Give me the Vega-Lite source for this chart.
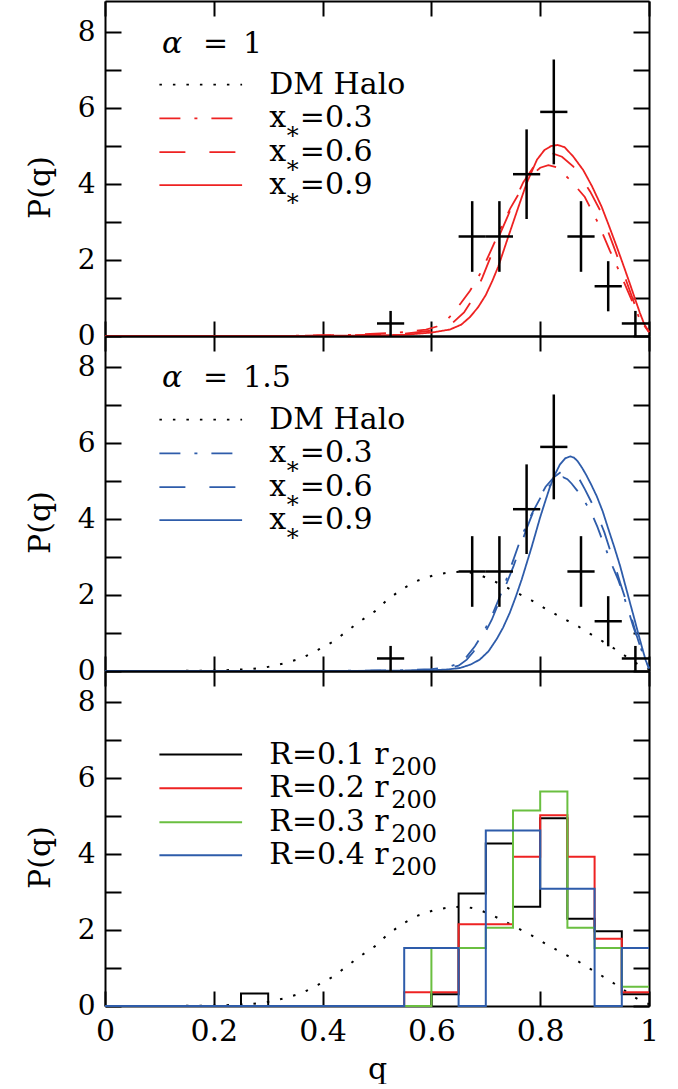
{
  "$schema": "https://vega.github.io/schema/vega-lite/v6.json",
  "padding": {"left": 25, "top": 0, "right": 5, "bottom": 0},
  "spacing": 0,
  "bounds": "flush",
  "resolve": {"scale": {"color": "independent", "strokeDash": "independent"}},
  "config": {
    "view": {"stroke": null},
    "font": "DejaVu Serif",
    "axis": {"domainColor": "black", "domainWidth": 2, "tickColor": "black", "tickWidth": 2, "labelFont": "DejaVu Serif", "labelFontSize": 30, "labelColor": "black", "titleFont": "DejaVu Serif", "titleFontSize": 30, "titleFontWeight": "normal", "titleColor": "black", "grid": false, "labelFlush": false},
    "axisLeft": {"labelFontSize": 28},
    "text": {"font": "DejaVu Serif", "fontSize": 30, "color": "black"}
  },
  "datasets": {
    "crosses": [
      {"q": 0.525, "qlo": 0.5, "qhi": 0.55, "P": 0.33, "Plo": 0.0, "Phi": 0.66},
      {"q": 0.675, "qlo": 0.65, "qhi": 0.7, "P": 2.62, "Plo": 1.69, "Phi": 3.55},
      {"q": 0.725, "qlo": 0.7, "qhi": 0.75, "P": 2.62, "Plo": 1.69, "Phi": 3.55},
      {"q": 0.775, "qlo": 0.75, "qhi": 0.8, "P": 4.26, "Plo": 3.08, "Phi": 5.44},
      {"q": 0.825, "qlo": 0.8, "qhi": 0.85, "P": 5.9, "Plo": 4.52, "Phi": 7.28},
      {"q": 0.875, "qlo": 0.85, "qhi": 0.9, "P": 2.62, "Plo": 1.69, "Phi": 3.55},
      {"q": 0.925, "qlo": 0.9, "qhi": 0.95, "P": 1.31, "Plo": 0.65, "Phi": 1.97},
      {"q": 0.975, "qlo": 0.95, "qhi": 1.0, "P": 0.33, "Plo": 0.0, "Phi": 0.66}
    ],
    "curves1": [
      {"s": "x0.9", "q": 0, "P": 0}, {"s": "x0.9", "q": 0.3, "P": 0}, {"s": "x0.9", "q": 0.45, "P": 0.01}, {"s": "x0.9", "q": 0.55, "P": 0.03}, {"s": "x0.9", "q": 0.6, "P": 0.09}, {"s": "x0.9", "q": 0.634, "P": 0.17}, {"s": "x0.9", "q": 0.655, "P": 0.3}, {"s": "x0.9", "q": 0.671, "P": 0.5}, {"s": "x0.9", "q": 0.686, "P": 0.76}, {"s": "x0.9", "q": 0.7, "P": 1.08}, {"s": "x0.9", "q": 0.712, "P": 1.45}, {"s": "x0.9", "q": 0.723, "P": 1.83}, {"s": "x0.9", "q": 0.741, "P": 2.6}, {"s": "x0.9", "q": 0.76, "P": 3.4}, {"s": "x0.9", "q": 0.775, "P": 4.02}, {"s": "x0.9", "q": 0.794, "P": 4.64}, {"s": "x0.9", "q": 0.808, "P": 4.9}, {"s": "x0.9", "q": 0.82, "P": 5.0}, {"s": "x0.9", "q": 0.832, "P": 5.03}, {"s": "x0.9", "q": 0.845, "P": 4.97}, {"s": "x0.9", "q": 0.861, "P": 4.72}, {"s": "x0.9", "q": 0.879, "P": 4.37}, {"s": "x0.9", "q": 0.895, "P": 3.95}, {"s": "x0.9", "q": 0.913, "P": 3.4}, {"s": "x0.9", "q": 0.927, "P": 2.88}, {"s": "x0.9", "q": 0.941, "P": 2.34}, {"s": "x0.9", "q": 0.953, "P": 1.86}, {"s": "x0.9", "q": 0.965, "P": 1.37}, {"s": "x0.9", "q": 0.975, "P": 0.95}, {"s": "x0.9", "q": 0.983, "P": 0.62}, {"s": "x0.9", "q": 0.991, "P": 0.32}, {"s": "x0.9", "q": 1.0, "P": 0.1},
      {"s": "x0.6", "q": 0, "P": 0}, {"s": "x0.6", "q": 0.3, "P": 0}, {"s": "x0.6", "q": 0.45, "P": 0.02}, {"s": "x0.6", "q": 0.55, "P": 0.06}, {"s": "x0.6", "q": 0.6, "P": 0.14}, {"s": "x0.6", "q": 0.62, "P": 0.22}, {"s": "x0.6", "q": 0.64, "P": 0.36}, {"s": "x0.6", "q": 0.66, "P": 0.62}, {"s": "x0.6", "q": 0.677, "P": 1.0}, {"s": "x0.6", "q": 0.694, "P": 1.55}, {"s": "x0.6", "q": 0.711, "P": 2.16}, {"s": "x0.6", "q": 0.728, "P": 2.75}, {"s": "x0.6", "q": 0.745, "P": 3.31}, {"s": "x0.6", "q": 0.769, "P": 4.05}, {"s": "x0.6", "q": 0.79, "P": 4.5}, {"s": "x0.6", "q": 0.808, "P": 4.72}, {"s": "x0.6", "q": 0.824, "P": 4.8}, {"s": "x0.6", "q": 0.84, "P": 4.72}, {"s": "x0.6", "q": 0.861, "P": 4.46}, {"s": "x0.6", "q": 0.876, "P": 4.15}, {"s": "x0.6", "q": 0.892, "P": 3.8}, {"s": "x0.6", "q": 0.91, "P": 3.31}, {"s": "x0.6", "q": 0.934, "P": 2.4}, {"s": "x0.6", "q": 0.958, "P": 1.46}, {"s": "x0.6", "q": 0.977, "P": 0.7}, {"s": "x0.6", "q": 0.99, "P": 0.3}, {"s": "x0.6", "q": 1.0, "P": 0.1},
      {"s": "x0.3", "q": 0, "P": 0}, {"s": "x0.3", "q": 0.3, "P": 0}, {"s": "x0.3", "q": 0.45, "P": 0.03}, {"s": "x0.3", "q": 0.55, "P": 0.1}, {"s": "x0.3", "q": 0.59, "P": 0.17}, {"s": "x0.3", "q": 0.61, "P": 0.25}, {"s": "x0.3", "q": 0.625, "P": 0.38}, {"s": "x0.3", "q": 0.637, "P": 0.55}, {"s": "x0.3", "q": 0.655, "P": 0.88}, {"s": "x0.3", "q": 0.671, "P": 1.19}, {"s": "x0.3", "q": 0.692, "P": 1.7}, {"s": "x0.3", "q": 0.711, "P": 2.3}, {"s": "x0.3", "q": 0.728, "P": 2.85}, {"s": "x0.3", "q": 0.745, "P": 3.36}, {"s": "x0.3", "q": 0.765, "P": 3.85}, {"s": "x0.3", "q": 0.785, "P": 4.24}, {"s": "x0.3", "q": 0.8, "P": 4.43}, {"s": "x0.3", "q": 0.815, "P": 4.5}, {"s": "x0.3", "q": 0.83, "P": 4.44}, {"s": "x0.3", "q": 0.855, "P": 4.11}, {"s": "x0.3", "q": 0.882, "P": 3.66}, {"s": "x0.3", "q": 0.907, "P": 2.96}, {"s": "x0.3", "q": 0.928, "P": 2.25}, {"s": "x0.3", "q": 0.947, "P": 1.65}, {"s": "x0.3", "q": 0.965, "P": 1.05}, {"s": "x0.3", "q": 0.983, "P": 0.45}, {"s": "x0.3", "q": 1.0, "P": 0.12}
    ],
    "curves15": [
      {"s": "x0.9", "q": 0, "P": 0}, {"s": "x0.9", "q": 0.4, "P": 0}, {"s": "x0.9", "q": 0.55, "P": 0.01}, {"s": "x0.9", "q": 0.6, "P": 0.02}, {"s": "x0.9", "q": 0.63, "P": 0.04}, {"s": "x0.9", "q": 0.653, "P": 0.08}, {"s": "x0.9", "q": 0.672, "P": 0.17}, {"s": "x0.9", "q": 0.689, "P": 0.3}, {"s": "x0.9", "q": 0.705, "P": 0.52}, {"s": "x0.9", "q": 0.72, "P": 0.84}, {"s": "x0.9", "q": 0.732, "P": 1.15}, {"s": "x0.9", "q": 0.744, "P": 1.53}, {"s": "x0.9", "q": 0.755, "P": 1.95}, {"s": "x0.9", "q": 0.766, "P": 2.41}, {"s": "x0.9", "q": 0.784, "P": 3.25}, {"s": "x0.9", "q": 0.8, "P": 4.05}, {"s": "x0.9", "q": 0.81, "P": 4.5}, {"s": "x0.9", "q": 0.818, "P": 4.85}, {"s": "x0.9", "q": 0.827, "P": 5.17}, {"s": "x0.9", "q": 0.836, "P": 5.43}, {"s": "x0.9", "q": 0.846, "P": 5.6}, {"s": "x0.9", "q": 0.855, "P": 5.65}, {"s": "x0.9", "q": 0.862, "P": 5.62}, {"s": "x0.9", "q": 0.869, "P": 5.52}, {"s": "x0.9", "q": 0.877, "P": 5.35}, {"s": "x0.9", "q": 0.885, "P": 5.15}, {"s": "x0.9", "q": 0.894, "P": 4.9}, {"s": "x0.9", "q": 0.904, "P": 4.6}, {"s": "x0.9", "q": 0.915, "P": 4.2}, {"s": "x0.9", "q": 0.925, "P": 3.75}, {"s": "x0.9", "q": 0.936, "P": 3.27}, {"s": "x0.9", "q": 0.947, "P": 2.76}, {"s": "x0.9", "q": 0.956, "P": 2.28}, {"s": "x0.9", "q": 0.965, "P": 1.8}, {"s": "x0.9", "q": 0.973, "P": 1.38}, {"s": "x0.9", "q": 0.98, "P": 1.0}, {"s": "x0.9", "q": 0.987, "P": 0.63}, {"s": "x0.9", "q": 0.994, "P": 0.28}, {"s": "x0.9", "q": 1.0, "P": 0.06},
      {"s": "x0.6", "q": 0, "P": 0}, {"s": "x0.6", "q": 0.4, "P": 0}, {"s": "x0.6", "q": 0.55, "P": 0.01}, {"s": "x0.6", "q": 0.6, "P": 0.03}, {"s": "x0.6", "q": 0.63, "P": 0.07}, {"s": "x0.6", "q": 0.65, "P": 0.14}, {"s": "x0.6", "q": 0.665, "P": 0.3}, {"s": "x0.6", "q": 0.677, "P": 0.5}, {"s": "x0.6", "q": 0.694, "P": 0.88}, {"s": "x0.6", "q": 0.711, "P": 1.35}, {"s": "x0.6", "q": 0.731, "P": 2.05}, {"s": "x0.6", "q": 0.751, "P": 2.76}, {"s": "x0.6", "q": 0.775, "P": 3.75}, {"s": "x0.6", "q": 0.794, "P": 4.44}, {"s": "x0.6", "q": 0.81, "P": 4.85}, {"s": "x0.6", "q": 0.825, "P": 5.1}, {"s": "x0.6", "q": 0.84, "P": 5.26}, {"s": "x0.6", "q": 0.852, "P": 5.3}, {"s": "x0.6", "q": 0.861, "P": 5.25}, {"s": "x0.6", "q": 0.872, "P": 5.05}, {"s": "x0.6", "q": 0.882, "P": 4.79}, {"s": "x0.6", "q": 0.894, "P": 4.45}, {"s": "x0.6", "q": 0.907, "P": 4.05}, {"s": "x0.6", "q": 0.918, "P": 3.65}, {"s": "x0.6", "q": 0.928, "P": 3.2}, {"s": "x0.6", "q": 0.938, "P": 2.75}, {"s": "x0.6", "q": 0.947, "P": 2.32}, {"s": "x0.6", "q": 0.957, "P": 1.88}, {"s": "x0.6", "q": 0.967, "P": 1.44}, {"s": "x0.6", "q": 0.977, "P": 0.95}, {"s": "x0.6", "q": 0.987, "P": 0.5}, {"s": "x0.6", "q": 1.0, "P": 0.08},
      {"s": "x0.3", "q": 0, "P": 0}, {"s": "x0.3", "q": 0.4, "P": 0}, {"s": "x0.3", "q": 0.55, "P": 0.02}, {"s": "x0.3", "q": 0.6, "P": 0.05}, {"s": "x0.3", "q": 0.63, "P": 0.1}, {"s": "x0.3", "q": 0.65, "P": 0.2}, {"s": "x0.3", "q": 0.665, "P": 0.38}, {"s": "x0.3", "q": 0.68, "P": 0.65}, {"s": "x0.3", "q": 0.695, "P": 1.0}, {"s": "x0.3", "q": 0.711, "P": 1.45}, {"s": "x0.3", "q": 0.73, "P": 2.1}, {"s": "x0.3", "q": 0.75, "P": 2.9}, {"s": "x0.3", "q": 0.766, "P": 3.55}, {"s": "x0.3", "q": 0.785, "P": 4.15}, {"s": "x0.3", "q": 0.8, "P": 4.55}, {"s": "x0.3", "q": 0.815, "P": 4.85}, {"s": "x0.3", "q": 0.83, "P": 5.05}, {"s": "x0.3", "q": 0.842, "P": 5.1}, {"s": "x0.3", "q": 0.85, "P": 5.05}, {"s": "x0.3", "q": 0.858, "P": 4.93}, {"s": "x0.3", "q": 0.868, "P": 4.75}, {"s": "x0.3", "q": 0.879, "P": 4.53}, {"s": "x0.3", "q": 0.894, "P": 4.17}, {"s": "x0.3", "q": 0.905, "P": 3.8}, {"s": "x0.3", "q": 0.916, "P": 3.38}, {"s": "x0.3", "q": 0.925, "P": 3.05}, {"s": "x0.3", "q": 0.934, "P": 2.72}, {"s": "x0.3", "q": 0.944, "P": 2.38}, {"s": "x0.3", "q": 0.953, "P": 2.0}, {"s": "x0.3", "q": 0.962, "P": 1.6}, {"s": "x0.3", "q": 0.971, "P": 1.17}, {"s": "x0.3", "q": 0.98, "P": 0.8}, {"s": "x0.3", "q": 0.99, "P": 0.4}, {"s": "x0.3", "q": 1.0, "P": 0.08}
    ],
    "halo": [
      {"s": "halo", "q": 0, "P": 0}, {"s": "halo", "q": 0.1, "P": 0}, {"s": "halo", "q": 0.2, "P": 0.01}, {"s": "halo", "q": 0.236, "P": 0.03}, {"s": "halo", "q": 0.267, "P": 0.05}, {"s": "halo", "q": 0.297, "P": 0.1}, {"s": "halo", "q": 0.33, "P": 0.2}, {"s": "halo", "q": 0.362, "P": 0.34}, {"s": "halo", "q": 0.392, "P": 0.56}, {"s": "halo", "q": 0.42, "P": 0.78}, {"s": "halo", "q": 0.444, "P": 1.04}, {"s": "halo", "q": 0.469, "P": 1.31}, {"s": "halo", "q": 0.496, "P": 1.57}, {"s": "halo", "q": 0.518, "P": 1.86}, {"s": "halo", "q": 0.545, "P": 2.15}, {"s": "halo", "q": 0.573, "P": 2.37}, {"s": "halo", "q": 0.604, "P": 2.52}, {"s": "halo", "q": 0.634, "P": 2.6}, {"s": "halo", "q": 0.66, "P": 2.62}, {"s": "halo", "q": 0.685, "P": 2.55}, {"s": "halo", "q": 0.71, "P": 2.4}, {"s": "halo", "q": 0.732, "P": 2.25}, {"s": "halo", "q": 0.757, "P": 2.06}, {"s": "halo", "q": 0.784, "P": 1.86}, {"s": "halo", "q": 0.811, "P": 1.63}, {"s": "halo", "q": 0.84, "P": 1.4}, {"s": "halo", "q": 0.867, "P": 1.2}, {"s": "halo", "q": 0.892, "P": 0.98}, {"s": "halo", "q": 0.922, "P": 0.72}, {"s": "halo", "q": 0.95, "P": 0.46}, {"s": "halo", "q": 0.971, "P": 0.25}, {"s": "halo", "q": 0.99, "P": 0.1}, {"s": "halo", "q": 1.0, "P": 0.05}
    ],
    "hist": [
      {"s": "R0.1", "q": 0, "P": 0}, {"s": "R0.1", "q": 0.25, "P": 0.33}, {"s": "R0.1", "q": 0.3, "P": 0}, {"s": "R0.1", "q": 0.55, "P": 0}, {"s": "R0.1", "q": 0.6, "P": 0.31}, {"s": "R0.1", "q": 0.65, "P": 2.96}, {"s": "R0.1", "q": 0.7, "P": 4.28}, {"s": "R0.1", "q": 0.75, "P": 2.61}, {"s": "R0.1", "q": 0.8, "P": 4.94}, {"s": "R0.1", "q": 0.85, "P": 2.3}, {"s": "R0.1", "q": 0.9, "P": 1.97}, {"s": "R0.1", "q": 0.95, "P": 0.31}, {"s": "R0.1", "q": 1.0, "P": 0.31},
      {"s": "R0.2", "q": 0, "P": 0}, {"s": "R0.2", "q": 0.55, "P": 0.36}, {"s": "R0.2", "q": 0.6, "P": 0.36}, {"s": "R0.2", "q": 0.65, "P": 2.15}, {"s": "R0.2", "q": 0.7, "P": 2.15}, {"s": "R0.2", "q": 0.75, "P": 3.93}, {"s": "R0.2", "q": 0.8, "P": 5.02}, {"s": "R0.2", "q": 0.85, "P": 3.93}, {"s": "R0.2", "q": 0.9, "P": 1.77}, {"s": "R0.2", "q": 0.95, "P": 0.36}, {"s": "R0.2", "q": 1.0, "P": 0.36},
      {"s": "R0.3", "q": 0, "P": 0}, {"s": "R0.3", "q": 0.55, "P": 0}, {"s": "R0.3", "q": 0.6, "P": 1.53}, {"s": "R0.3", "q": 0.65, "P": 1.53}, {"s": "R0.3", "q": 0.7, "P": 2.06}, {"s": "R0.3", "q": 0.75, "P": 5.15}, {"s": "R0.3", "q": 0.8, "P": 5.65}, {"s": "R0.3", "q": 0.85, "P": 2.06}, {"s": "R0.3", "q": 0.9, "P": 1.53}, {"s": "R0.3", "q": 0.95, "P": 0.51}, {"s": "R0.3", "q": 1.0, "P": 0.51},
      {"s": "R0.4", "q": 0, "P": 0}, {"s": "R0.4", "q": 0.55, "P": 1.53}, {"s": "R0.4", "q": 0.6, "P": 1.53}, {"s": "R0.4", "q": 0.65, "P": 0}, {"s": "R0.4", "q": 0.7, "P": 4.62}, {"s": "R0.4", "q": 0.75, "P": 4.62}, {"s": "R0.4", "q": 0.8, "P": 3.09}, {"s": "R0.4", "q": 0.85, "P": 3.09}, {"s": "R0.4", "q": 0.9, "P": 0}, {"s": "R0.4", "q": 0.95, "P": 1.53}, {"s": "R0.4", "q": 1.0, "P": 1.53}
    ],
    "legx": [
      {"label": "DM Halo", "s": "halo", "P": 6.62},
      {"label": "=0.3", "s": "x0.3", "P": 5.73},
      {"label": "=0.6", "s": "x0.6", "P": 4.84},
      {"label": "=0.9", "s": "x0.9", "P": 3.97}
    ],
    "legR": [
      {"label": "R=0.1 r", "s": "R0.1", "P": 6.62},
      {"label": "R=0.2 r", "s": "R0.2", "P": 5.73},
      {"label": "R=0.3 r", "s": "R0.3", "P": 4.84},
      {"label": "R=0.4 r", "s": "R0.4", "P": 3.97}
    ]
  },
  "vconcat": [
    {
      "width": 544, "height": 335,
      "resolve": {"axis": {"x": "independent", "y": "independent"}},
      "layer": [
        {
          "data": {"name": "curves1"},
          "mark": {"type": "line", "strokeWidth": 1.8},
          "encoding": {
            "x": {"field": "q", "type": "quantitative", "scale": {"domain": [0, 1], "nice": false}, "axis": {"orient": "bottom", "values": [0, 0.2, 0.4, 0.6, 0.8, 1], "labels": false, "tickSize": -15, "title": null}},
            "y": {"field": "P", "type": "quantitative", "scale": {"domain": [0, 8.82], "nice": false}, "axis": {"orient": "left", "values": [0, 1, 2, 3, 4, 5, 6, 7, 8], "labelExpr": "datum.value % 2 === 0 ? datum.label : ''", "tickSize": -16, "labelPadding": 26, "title": "P(q)", "titleX": -65, "titleY": 186, "titleBaseline": "middle", "titleAngle": 270, "titleAlign": "center"}},
            "color": {"field": "s", "type": "nominal", "scale": {"domain": ["halo", "x0.3", "x0.6", "x0.9"], "range": ["#000000", "#ee2222", "#ee2222", "#ee2222"]}, "legend": null},
            "strokeDash": {"field": "s", "type": "nominal", "scale": {"domain": ["halo", "x0.3", "x0.6", "x0.9"], "range": [[2.5, 11], [21, 14, 3, 14], [26, 24], [1, 0]]}, "legend": null}
          }
        },
        {
          "data": {"name": "crosses"},
          "mark": {"type": "rule", "color": "black", "strokeWidth": 2.5},
          "encoding": {
            "x": {"field": "qlo", "type": "quantitative", "scale": {"domain": [0, 1], "nice": false}, "axis": {"orient": "top", "values": [0, 0.2, 0.4, 0.6, 0.8, 1], "labels": false, "tickSize": -15, "title": null}},
            "x2": {"field": "qhi"},
            "y": {"field": "P", "type": "quantitative", "scale": {"domain": [0, 8.82], "nice": false}, "axis": {"orient": "right", "values": [0, 1, 2, 3, 4, 5, 6, 7, 8], "labels": false, "tickSize": -16, "title": null}}
          }
        },
        {
          "data": {"name": "crosses"},
          "mark": {"type": "rule", "color": "black", "strokeWidth": 2.5},
          "encoding": {
            "x": {"field": "q", "type": "quantitative", "axis": null},
            "y": {"field": "Plo", "type": "quantitative", "axis": null},
            "y2": {"field": "Phi"}
          }
        },
        {
          "data": {"name": "legx"},
          "mark": {"type": "rule", "strokeWidth": 1.8},
          "encoding": {
            "x": {"datum": 0.1, "type": "quantitative", "axis": null},
            "x2": {"datum": 0.252},
            "y": {"field": "P", "type": "quantitative", "axis": null},
            "color": {"field": "s", "type": "nominal", "scale": {"domain": ["halo", "x0.3", "x0.6", "x0.9"], "range": ["#000000", "#ee2222", "#ee2222", "#ee2222"]}, "legend": null},
            "strokeDash": {"field": "s", "type": "nominal", "scale": {"domain": ["halo", "x0.3", "x0.6", "x0.9"], "range": [[2.5, 11], [21, 14, 3, 14], [26, 24], [1, 0]]}, "legend": null}
          }
        },
        {
          "data": {"name": "legx"},
          "transform": [{"filter": "datum.s === 'halo'"}],
          "mark": {"type": "text", "align": "left", "baseline": "middle"},
          "encoding": {
            "x": {"datum": 0.302, "type": "quantitative", "axis": null},
            "y": {"field": "P", "type": "quantitative", "axis": null},
            "text": {"field": "label"}
          }
        },
        {
          "data": {"name": "legx"},
          "transform": [{"filter": "datum.s !== 'halo'"}],
          "mark": {"type": "text", "align": "left", "baseline": "middle", "text": "x"},
          "encoding": {
            "x": {"datum": 0.302, "type": "quantitative", "axis": null},
            "y": {"field": "P", "type": "quantitative", "axis": null}
          }
        },
        {
          "data": {"name": "legx"},
          "transform": [{"filter": "datum.s !== 'halo'"}],
          "mark": {"type": "text", "align": "center", "baseline": "middle", "text": "∗", "fontSize": 24, "dy": 14},
          "encoding": {
            "x": {"datum": 0.345, "type": "quantitative", "axis": null},
            "y": {"field": "P", "type": "quantitative", "axis": null}
          }
        },
        {
          "data": {"name": "legx"},
          "transform": [{"filter": "datum.s !== 'halo'"}],
          "mark": {"type": "text", "align": "left", "baseline": "middle"},
          "encoding": {
            "x": {"datum": 0.358, "type": "quantitative", "axis": null},
            "y": {"field": "P", "type": "quantitative", "axis": null},
            "text": {"field": "label"}
          }
        },
        {
          "data": {"values": [{"a": "α", "rest": "=\u20021", "P": 7.7}]},
          "layer": [
            {
              "mark": {"type": "text", "align": "left", "baseline": "middle", "fontStyle": "italic"},
              "encoding": {
                "x": {"datum": 0.105, "type": "quantitative", "axis": null},
                "y": {"field": "P", "type": "quantitative", "axis": null},
                "text": {"field": "a"}
              }
            },
            {
              "mark": {"type": "text", "align": "left", "baseline": "middle"},
              "encoding": {
                "x": {"datum": 0.18, "type": "quantitative", "axis": null},
                "y": {"field": "P", "type": "quantitative", "axis": null},
                "text": {"field": "rest"}
              }
            }
          ]
        }
      ]
    },
    {
      "width": 544, "height": 335,
      "resolve": {"axis": {"x": "independent", "y": "independent"}},
      "layer": [
        {
          "data": {"name": "halo"},
          "mark": {"type": "line", "strokeWidth": 2},
          "encoding": {
            "x": {"field": "q", "type": "quantitative", "scale": {"domain": [0, 1], "nice": false}, "axis": {"orient": "bottom", "values": [0, 0.2, 0.4, 0.6, 0.8, 1], "labels": false, "tickSize": -15, "title": null}},
            "y": {"field": "P", "type": "quantitative", "scale": {"domain": [0, 8.82], "nice": false}, "axis": {"orient": "left", "values": [0, 1, 2, 3, 4, 5, 6, 7, 8], "labelExpr": "datum.value % 2 === 0 ? datum.label : ''", "tickSize": -16, "labelPadding": 26, "title": "P(q)", "titleX": -65, "titleY": 186, "titleBaseline": "middle", "titleAngle": 270, "titleAlign": "center"}},
            "color": {"field": "s", "type": "nominal", "scale": {"domain": ["halo", "x0.3", "x0.6", "x0.9"], "range": ["#000000", "#2e5caa", "#2e5caa", "#2e5caa"]}, "legend": null},
            "strokeDash": {"field": "s", "type": "nominal", "scale": {"domain": ["halo", "x0.3", "x0.6", "x0.9"], "range": [[2.5, 11], [21, 14, 3, 14], [26, 24], [1, 0]]}, "legend": null}
          }
        },
        {
          "data": {"name": "curves15"},
          "mark": {"type": "line", "strokeWidth": 1.8},
          "encoding": {
            "x": {"field": "q", "type": "quantitative", "axis": null},
            "y": {"field": "P", "type": "quantitative", "axis": null},
            "color": {"field": "s", "type": "nominal", "scale": {"domain": ["halo", "x0.3", "x0.6", "x0.9"], "range": ["#000000", "#2e5caa", "#2e5caa", "#2e5caa"]}, "legend": null},
            "strokeDash": {"field": "s", "type": "nominal", "scale": {"domain": ["halo", "x0.3", "x0.6", "x0.9"], "range": [[2.5, 11], [21, 14, 3, 14], [26, 24], [1, 0]]}, "legend": null}
          }
        },
        {
          "data": {"name": "crosses"},
          "mark": {"type": "rule", "color": "black", "strokeWidth": 2.5},
          "encoding": {
            "x": {"field": "qlo", "type": "quantitative", "scale": {"domain": [0, 1], "nice": false}, "axis": {"orient": "top", "values": [0, 0.2, 0.4, 0.6, 0.8, 1], "labels": false, "tickSize": -15, "title": null}},
            "x2": {"field": "qhi"},
            "y": {"field": "P", "type": "quantitative", "scale": {"domain": [0, 8.82], "nice": false}, "axis": {"orient": "right", "values": [0, 1, 2, 3, 4, 5, 6, 7, 8], "labels": false, "tickSize": -16, "title": null}}
          }
        },
        {
          "data": {"name": "crosses"},
          "mark": {"type": "rule", "color": "black", "strokeWidth": 2.5},
          "encoding": {
            "x": {"field": "q", "type": "quantitative", "axis": null},
            "y": {"field": "Plo", "type": "quantitative", "axis": null},
            "y2": {"field": "Phi"}
          }
        },
        {
          "data": {"name": "legx"},
          "mark": {"type": "rule", "strokeWidth": 1.8},
          "encoding": {
            "x": {"datum": 0.1, "type": "quantitative", "axis": null},
            "x2": {"datum": 0.252},
            "y": {"field": "P", "type": "quantitative", "axis": null},
            "color": {"field": "s", "type": "nominal", "scale": {"domain": ["halo", "x0.3", "x0.6", "x0.9"], "range": ["#000000", "#2e5caa", "#2e5caa", "#2e5caa"]}, "legend": null},
            "strokeDash": {"field": "s", "type": "nominal", "scale": {"domain": ["halo", "x0.3", "x0.6", "x0.9"], "range": [[2.5, 11], [21, 14, 3, 14], [26, 24], [1, 0]]}, "legend": null}
          }
        },
        {
          "data": {"name": "legx"},
          "transform": [{"filter": "datum.s === 'halo'"}],
          "mark": {"type": "text", "align": "left", "baseline": "middle"},
          "encoding": {
            "x": {"datum": 0.302, "type": "quantitative", "axis": null},
            "y": {"field": "P", "type": "quantitative", "axis": null},
            "text": {"field": "label"}
          }
        },
        {
          "data": {"name": "legx"},
          "transform": [{"filter": "datum.s !== 'halo'"}],
          "mark": {"type": "text", "align": "left", "baseline": "middle", "text": "x"},
          "encoding": {
            "x": {"datum": 0.302, "type": "quantitative", "axis": null},
            "y": {"field": "P", "type": "quantitative", "axis": null}
          }
        },
        {
          "data": {"name": "legx"},
          "transform": [{"filter": "datum.s !== 'halo'"}],
          "mark": {"type": "text", "align": "center", "baseline": "middle", "text": "∗", "fontSize": 24, "dy": 14},
          "encoding": {
            "x": {"datum": 0.345, "type": "quantitative", "axis": null},
            "y": {"field": "P", "type": "quantitative", "axis": null}
          }
        },
        {
          "data": {"name": "legx"},
          "transform": [{"filter": "datum.s !== 'halo'"}],
          "mark": {"type": "text", "align": "left", "baseline": "middle"},
          "encoding": {
            "x": {"datum": 0.358, "type": "quantitative", "axis": null},
            "y": {"field": "P", "type": "quantitative", "axis": null},
            "text": {"field": "label"}
          }
        },
        {
          "data": {"values": [{"a": "α", "rest": "=\u20021.5", "P": 7.72}]},
          "layer": [
            {
              "mark": {"type": "text", "align": "left", "baseline": "middle", "fontStyle": "italic"},
              "encoding": {
                "x": {"datum": 0.105, "type": "quantitative", "axis": null},
                "y": {"field": "P", "type": "quantitative", "axis": null},
                "text": {"field": "a"}
              }
            },
            {
              "mark": {"type": "text", "align": "left", "baseline": "middle"},
              "encoding": {
                "x": {"datum": 0.18, "type": "quantitative", "axis": null},
                "y": {"field": "P", "type": "quantitative", "axis": null},
                "text": {"field": "rest"}
              }
            }
          ]
        }
      ]
    },
    {
      "width": 544, "height": 335,
      "resolve": {"axis": {"x": "independent", "y": "independent"}},
      "layer": [
        {
          "data": {"name": "halo"},
          "mark": {"type": "line", "strokeWidth": 2},
          "encoding": {
            "x": {"field": "q", "type": "quantitative", "scale": {"domain": [0, 1], "nice": false}, "axis": {"orient": "bottom", "values": [0, 0.2, 0.4, 0.6, 0.8, 1], "format": "~g", "labelBaseline": "top", "labelPadding": 25, "tickSize": -15, "title": "q", "titleY": 72, "titleBaseline": "alphabetic"}},
            "y": {"field": "P", "type": "quantitative", "scale": {"domain": [0, 8.82], "nice": false}, "axis": {"orient": "left", "values": [0, 1, 2, 3, 4, 5, 6, 7, 8], "labelExpr": "datum.value % 2 === 0 ? datum.label : ''", "tickSize": -16, "labelPadding": 26, "title": "P(q)", "titleX": -65, "titleY": 186, "titleBaseline": "middle", "titleAngle": 270, "titleAlign": "center"}},
            "color": {"field": "s", "type": "nominal", "scale": {"domain": ["halo", "R0.1", "R0.2", "R0.3", "R0.4"], "range": ["#000000", "#000000", "#ee2222", "#6abf40", "#2e5caa"]}, "legend": null},
            "strokeDash": {"field": "s", "type": "nominal", "scale": {"domain": ["halo", "R0.1", "R0.2", "R0.3", "R0.4"], "range": [[2.5, 11], [1, 0], [1, 0], [1, 0], [1, 0]]}, "legend": null}
          }
        },
        {
          "data": {"name": "hist"},
          "mark": {"type": "line", "interpolate": "step-after", "strokeWidth": 2},
          "encoding": {
            "x": {"field": "q", "type": "quantitative", "scale": {"domain": [0, 1], "nice": false}, "axis": {"orient": "top", "values": [0, 0.2, 0.4, 0.6, 0.8, 1], "labels": false, "tickSize": -15, "title": null}},
            "y": {"field": "P", "type": "quantitative", "scale": {"domain": [0, 8.82], "nice": false}, "axis": {"orient": "right", "values": [0, 1, 2, 3, 4, 5, 6, 7, 8], "labels": false, "tickSize": -16, "title": null}},
            "color": {"field": "s", "type": "nominal", "scale": {"domain": ["halo", "R0.1", "R0.2", "R0.3", "R0.4"], "range": ["#000000", "#000000", "#ee2222", "#6abf40", "#2e5caa"]}, "legend": null},
            "strokeDash": {"field": "s", "type": "nominal", "scale": {"domain": ["halo", "R0.1", "R0.2", "R0.3", "R0.4"], "range": [[2.5, 11], [1, 0], [1, 0], [1, 0], [1, 0]]}, "legend": null}
          }
        },
        {
          "data": {"name": "legR"},
          "mark": {"type": "rule", "strokeWidth": 2},
          "encoding": {
            "x": {"datum": 0.1, "type": "quantitative", "axis": null},
            "x2": {"datum": 0.252},
            "y": {"field": "P", "type": "quantitative", "axis": null},
            "color": {"field": "s", "type": "nominal", "scale": {"domain": ["halo", "R0.1", "R0.2", "R0.3", "R0.4"], "range": ["#000000", "#000000", "#ee2222", "#6abf40", "#2e5caa"]}, "legend": null}
          }
        },
        {
          "data": {"name": "legR"},
          "mark": {"type": "text", "align": "left", "baseline": "middle"},
          "encoding": {
            "x": {"datum": 0.302, "type": "quantitative", "axis": null},
            "y": {"field": "P", "type": "quantitative", "axis": null},
            "text": {"field": "label"}
          }
        },
        {
          "data": {"name": "legR"},
          "mark": {"type": "text", "align": "left", "baseline": "middle", "text": "200", "fontSize": 24, "dy": 13},
          "encoding": {
            "x": {"datum": 0.526, "type": "quantitative", "axis": null},
            "y": {"field": "P", "type": "quantitative", "axis": null}
          }
        }
      ]
    }
  ]
}
